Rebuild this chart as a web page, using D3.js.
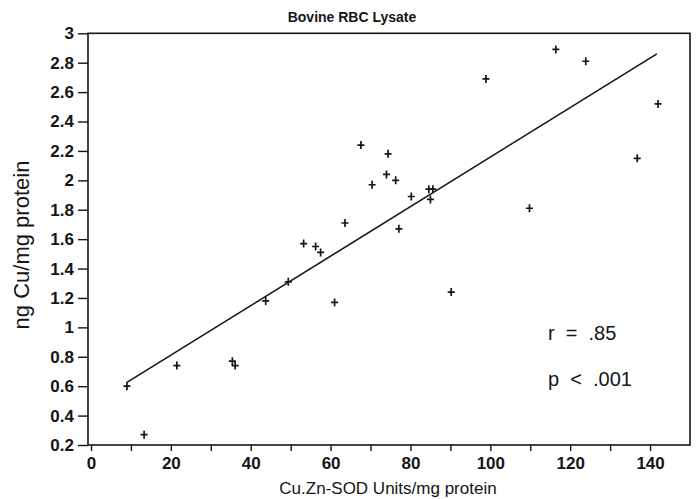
<!DOCTYPE html>
<html>
<head>
<meta charset="utf-8">
<script src="https://cdn.jsdelivr.net/npm/d3@7"></script>
<style>
  body { margin: 0; background: #fff; }
  svg { display: block; font-family: "Liberation Sans", Arial, sans-serif; }
</style>
</head>
<body>
<svg width="696" height="499"></svg>
<script>
// Cu,Zn-SOD activity vs copper content, bovine RBC lysate
var sodUnits = [9.0, 13.3, 21.5, 35.4, 36.1, 43.75, 49.4, 53.25, 56.25, 57.5,
                61.0, 63.6, 67.6, 70.4, 74.0, 74.4, 76.3, 77.1, 80.2, 84.6,
                85.6, 85.0, 90.2, 98.9, 109.8, 116.4, 123.9, 136.8, 142.0];
var cuValues = [0.60, 0.27, 0.74, 0.77, 0.74, 1.18, 1.31, 1.57, 1.55, 1.51,
                1.17, 1.71, 2.24, 1.97, 2.04, 2.18, 2.00, 1.67, 1.89, 1.94,
                1.94, 1.87, 1.24, 2.69, 1.81, 2.89, 2.81, 2.15, 2.52];
// regression line end points
var fitX = [8.9, 141.7];
var fitY = [0.624, 2.86];
var xTickLabels = [0, 20, 40, 60, 80, 100, 120, 140];
var yTickLabels = [0.2, 0.4, 0.6, 0.8, 1, 1.2, 1.4, 1.6, 1.8, 2, 2.2, 2.4, 2.6, 2.8, 3];
var statsText = ["r  =  .85", "p  <  .001"];

var svg = d3.select('svg');
var ink = '#151515';

var x = d3.scaleLinear().domain([-0.75, 150]).range([88, 690]);
var y = d3.scaleLinear().domain([0.2, 3]).range([445, 33.3]);

// frame
svg.append('rect')
   .attr('x', x(-0.75)).attr('y', y(3))
   .attr('width', x(150) - x(-0.75)).attr('height', y(0.2) - y(3))
   .attr('fill', 'none').attr('stroke', ink).attr('stroke-width', 1.6);

// x axis: minor ticks every 10, labels every 20
var xAxis = d3.axisBottom(x)
              .tickValues(d3.range(0, 150, 10))
              .tickSize(6)
              .tickFormat(function(d) { return xTickLabels.indexOf(d) >= 0 ? d : ''; });
var gx = svg.append('g').attr('transform', 'translate(0,' + y(0.2) + ')').call(xAxis);
gx.select('.domain').remove();
gx.selectAll('line').attr('stroke', ink).attr('stroke-width', 1.4);
gx.selectAll('text').attr('fill', ink).attr('font-size', '17px').attr('font-weight', 'bold')
  .attr('dy', '0.9em');

var yAxis = d3.axisLeft(y)
              .tickValues(yTickLabels)
              .tickSize(10)
              .tickPadding(4)
              .tickFormat(function(d) { return d3.format('~g')(d); });
var gy = svg.append('g').attr('transform', 'translate(' + x(-0.75) + ',0)').call(yAxis);
gy.select('.domain').remove();
gy.selectAll('line').attr('stroke', ink).attr('stroke-width', 1.4);
gy.selectAll('text').attr('fill', ink).attr('font-size', '17px').attr('font-weight', 'bold');

// regression line
var line = d3.line().x(function(d) { return x(d[0]); }).y(function(d) { return y(d[1]); });
svg.append('path')
   .datum(d3.zip(fitX, fitY))
   .attr('d', line)
   .attr('fill', 'none').attr('stroke', ink).attr('stroke-width', 1.6);

// plus markers
var pts = d3.zip(sodUnits, cuValues);
svg.append('g').selectAll('path').data(pts).enter().append('path')
   .attr('transform', function(d) { return 'translate(' + x(d[0]) + ',' + y(d[1]) + ')'; })
   .attr('d', 'M-3.5,0H3.5M0,-4V4')
   .attr('stroke', ink).attr('stroke-width', 1.7).attr('fill', 'none');

// stats
svg.selectAll('.stat').data(statsText).enter().append('text')
   .attr('class', 'stat')
   .attr('x', 548).attr('y', function(d, i) { return 340 + i * 46; })
   .attr('font-size', '20px').attr('fill', ink)
   .style('white-space', 'pre')
   .text(function(d) { return d; });

// titles
svg.append('text').attr('x', 352).attr('y', 22).attr('text-anchor', 'middle')
   .attr('font-size', '14px').attr('font-weight', 'bold').attr('fill', ink)
   .text('Bovine RBC Lysate');
svg.append('text').attr('x', 388).attr('y', 494).attr('text-anchor', 'middle')
   .attr('font-size', '17px').attr('fill', ink)
   .text('Cu.Zn-SOD Units/mg protein');
svg.append('text').attr('transform', 'translate(29,245) rotate(-90)').attr('text-anchor', 'middle')
   .attr('font-size', '22px').attr('fill', ink)
   .text('ng Cu/mg protein');
</script>
</body>
</html>
